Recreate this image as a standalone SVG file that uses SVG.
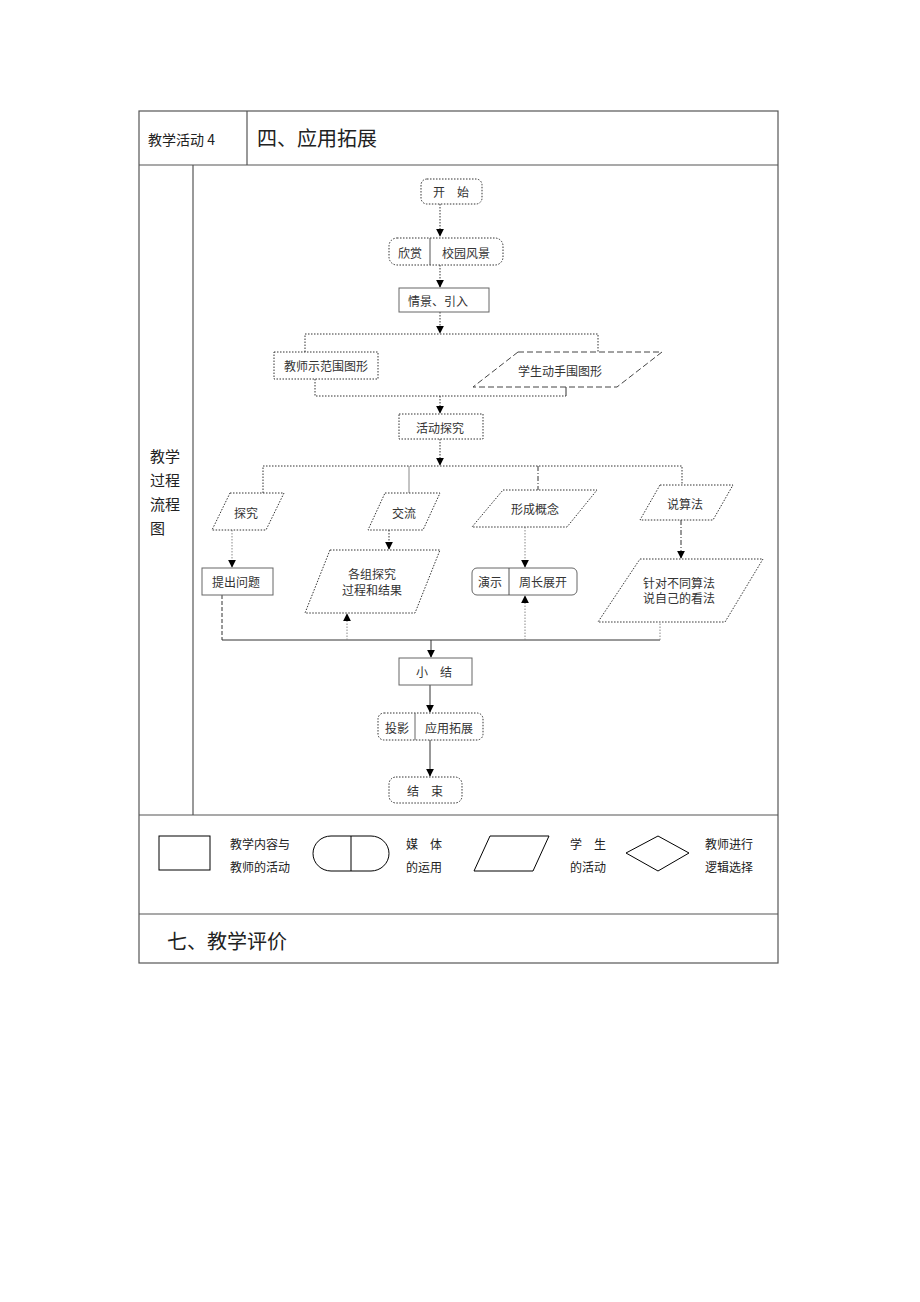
<svg xmlns="http://www.w3.org/2000/svg" width="920" height="1302" viewBox="0 0 920 1302">
<defs>
<marker id="arr" viewBox="0 0 10 10" refX="9" refY="5" markerWidth="8" markerHeight="8" orient="auto" markerUnits="userSpaceOnUse">
<path d="M0,0 L10,5 L0,10 Z" fill="#000"/>
</marker>
</defs>
<style>
.tb{stroke:#555;stroke-width:1.2;fill:none}
.t{font-family:"Noto Sans CJK SC","Noto Sans",sans-serif;font-size:12px;fill:#333;text-anchor:middle;dominant-baseline:central}
.s{font-family:"Noto Sans CJK SC",serif;fill:#222;dominant-baseline:central}
.dot{stroke:#333;stroke-width:1;stroke-dasharray:1.5,1.5;fill:#fff}
.sol{stroke:#666;stroke-width:1;fill:#fff}
.dash{stroke:#444;stroke-width:1;stroke-dasharray:6,3;fill:#fff}
.c{fill:none;stroke:#333;stroke-width:1}
.cd{stroke-dasharray:1.5,1.5}
.cg{stroke:#888}
.cdd{stroke-dasharray:5,2,1,2}
.cda{stroke-dasharray:4,2}
.lg{stroke:#000;stroke-width:1;fill:#fff}
</style>
<rect width="920" height="1302" fill="#fff"/>
<g id="table">
<rect x="139" y="111" width="639" height="852" class="tb"/>
<line x1="139" y1="165" x2="778" y2="165" class="tb"/>
<line x1="247" y1="111" x2="247" y2="165" class="tb"/>
<line x1="193" y1="165" x2="193" y2="815" class="tb"/>
<line x1="139" y1="815" x2="778" y2="815" class="tb"/>
<line x1="139" y1="914" x2="778" y2="914" class="tb"/>
<text x="148" y="139" class="s" font-size="14">教学活动 4</text>
<text x="257" y="137" class="s" font-size="20">四、应用拓展</text>
<text x="150" y="455" class="s" font-size="15">教学</text>
<text x="150" y="479" class="s" font-size="15">过程</text>
<text x="150" y="503" class="s" font-size="15">流程</text>
<text x="150" y="527" class="s" font-size="15">图</text>
<text x="167" y="940" class="s" font-size="20">七、教学评价</text>
</g>
<g id="connectors">
<path d="M440,204 V236" class="c cd" marker-end="url(#arr)"/>
<path d="M440,265 V287" class="c cd" marker-end="url(#arr)"/>
<path d="M440,312 V333" class="c cd" marker-end="url(#arr)"/>
<path d="M305,352 V334 H598 V352" class="c cd"/>
<path d="M315,379 V396 H566" class="c cd"/>
<path d="M566,396 V387" class="c"/>
<path d="M440,396 V413" class="c cd" marker-end="url(#arr)"/>
<path d="M440,439 V465" class="c cd" marker-end="url(#arr)"/>
<path d="M263,493 V466 H682 V485" class="c cd"/>
<path d="M409,466 V493" class="c cg"/>
<path d="M538,466 V490" class="c cdd"/>
<path d="M232,530 V567" class="c cd cg" marker-end="url(#arr)"/>
<path d="M389,530 V549" class="c cd" marker-end="url(#arr)"/>
<path d="M525,527 V567" class="c cd cg" marker-end="url(#arr)"/>
<path d="M681,520 V558" class="c cdd" marker-end="url(#arr)"/>
<path d="M222,595 V640" class="c cda"/>
<path d="M222,640 H660" class="c" stroke="#000"/>
<path d="M660,640 V622" class="c cd cg"/>
<path d="M347,640 V614" class="c cd cg" marker-end="url(#arr)"/>
<path d="M525,640 V596" class="c cd cg" marker-end="url(#arr)"/>
<path d="M431,640 V657" class="c" marker-end="url(#arr)"/>
<path d="M430,685 V712" class="c" marker-end="url(#arr)"/>
<path d="M430,740 V776" class="c" marker-end="url(#arr)"/>
</g>
<g id="n_start"><rect x="421" y="179" width="61" height="25" rx="6" class="dot"/><text x="451" y="191" class="t">开　始</text></g>
<g id="n_xinshang"><rect x="389" y="238" width="114" height="27" rx="8" class="dot"/><line x1="430" y1="238" x2="430" y2="265" stroke="#555"/><text x="410" y="252" class="t">欣赏</text><text x="466" y="252" class="t">校园风景</text></g>
<g id="n_qingjing"><rect x="399" y="288" width="90" height="24" class="sol"/><text x="438" y="300" class="t">情景、引入</text></g>
<g id="n_jiaoshi"><rect x="274" y="352" width="104" height="27" class="dot"/><text x="326" y="365" class="t">教师示范围图形</text></g>
<g id="n_xuesheng"><polygon points="518,352 662,352 617,387 473,387" class="dash"/><text x="560" y="370" class="t">学生动手围图形</text></g>
<g id="n_huodong"><rect x="399" y="414" width="84" height="25" class="dot"/><text x="440" y="427" class="t">活动探究</text></g>
<g id="n_tanjiu"><polygon points="230,493 284,493 266,530 212,530" class="dot"/><text x="246" y="512" class="t">探究</text></g>
<g id="n_jiaoliu"><polygon points="385,493 440,493 423,530 368,530" class="dot"/><text x="404" y="512" class="t">交流</text></g>
<g id="n_xingcheng"><polygon points="503,490 597,490 567,527 472,527" class="dot"/><text x="535" y="508" class="t">形成概念</text></g>
<g id="n_shuo"><polygon points="660,485 733,485 713,520 640,520" class="dot"/><text x="685" y="503" class="t">说算法</text></g>
<g id="n_tichu"><rect x="202" y="568" width="71" height="27" class="sol"/><text x="236" y="581" class="t">提出问题</text></g>
<g id="n_gezu"><polygon points="330,550 440,550 415,613 305,613" class="dot"/><text x="372" y="573" class="t">各组探究</text><text x="372" y="589" class="t">过程和结果</text></g>
<g id="n_yanshi"><rect x="472" y="568" width="105" height="27" rx="5" class="sol"/><line x1="509" y1="568" x2="509" y2="595" stroke="#555"/><text x="490" y="581" class="t">演示</text><text x="543" y="581" class="t">周长展开</text></g>
<g id="n_zhendui"><polygon points="640,559 763,559 725,622 598,622" class="dot"/><text x="679" y="582" class="t">针对不同算法</text><text x="679" y="597" class="t">说自己的看法</text></g>
<g id="n_xiaojie"><rect x="399" y="658" width="73" height="27" class="sol"/><text x="434" y="671" class="t">小　结</text></g>
<g id="n_touying"><rect x="378" y="713" width="105" height="27" rx="6" class="dot"/><line x1="415" y1="713" x2="415" y2="740" stroke="#666"/><text x="397" y="727" class="t">投影</text><text x="449" y="727" class="t">应用拓展</text></g>
<g id="n_end"><rect x="389" y="777" width="73" height="26" rx="7" class="dot"/><text x="425" y="790" class="t">结　束</text></g>
<g id="legend">
<rect x="159" y="836" width="51" height="34" class="lg"/>
<text x="230" y="843" class="s" font-size="12">教学内容与</text>
<text x="230" y="866" class="s" font-size="12">教师的活动</text>
<path d="M331,836 H371 A18,17.5 0 0 1 371,871 H331 A18,17.5 0 0 1 331,836 Z" class="lg"/>
<line x1="351" y1="836" x2="351" y2="871" stroke="#000"/>
<text x="406" y="843" class="s" font-size="12">媒　体</text>
<text x="406" y="866" class="s" font-size="12">的运用</text>
<polygon points="490,836 549,836 533,871 474,871" class="lg"/>
<text x="570" y="843" class="s" font-size="12">学　生</text>
<text x="570" y="866" class="s" font-size="12">的活动</text>
<polygon points="658,836 689,853 658,871 626,853" class="lg"/>
<text x="705" y="843" class="s" font-size="12">教师进行</text>
<text x="705" y="866" class="s" font-size="12">逻辑选择</text>
</g>
</svg>
